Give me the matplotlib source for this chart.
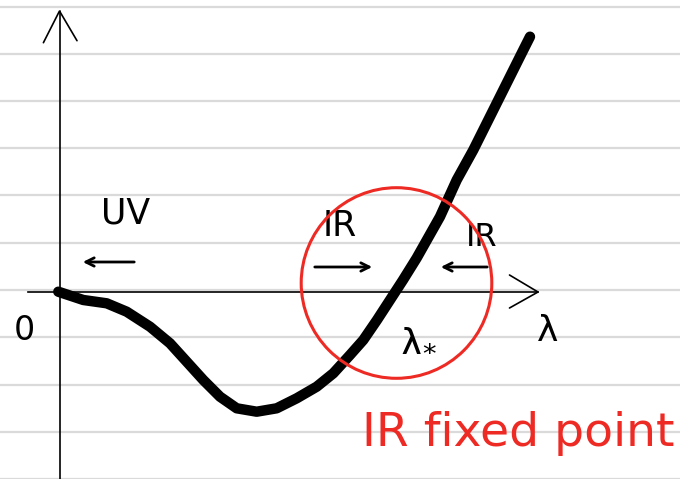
import matplotlib
matplotlib.use("Agg")
import matplotlib.pyplot as plt
from matplotlib.patches import Circle

# --- data (sketch coordinates, pixel-like units, y downward) ---
curve_x = [58.3, 83.3, 106.7, 126.7, 150, 170, 186.7, 203.3, 220, 236.7,
           256.7, 276.7, 296.7, 316.7, 333.3, 350, 363.3, 377, 390, 403,
           416.7, 440, 456.7, 473.3, 493.3, 513.3, 523.3, 530]
curve_y = [291.7, 300, 303.3, 311.7, 326.7, 343.3, 361.7, 380, 396.7, 408.3,
           411.7, 408.3, 398.3, 386.7, 373.3, 355, 340, 320, 300, 280,
           258, 216.7, 180, 150, 110, 70, 50, 36.7]
ruled_lines = [7, 54, 101, 148, 195, 242.5, 290, 337, 384.5, 432, 478.5]
fixed_point_center = (396.5, 283)
fixed_point_radius = 95.3
labels = {"zero": "0", "lam": "λ", "lamstar": r"λ$_{*}$",
          "uv": "UV", "ir": "IR", "title": "IR fixed point"}

W, H = 680, 479
fig = plt.figure(figsize=(W / 100, H / 100), dpi=100)
ax = fig.add_axes([0, 0, 1, 1])
ax.set_xlim(0, W)
ax.set_ylim(H, 0)
ax.axis("off")

# ruled notebook lines
for y in ruled_lines:
    ax.axhline(y, color="#dadada", lw=1.6, zorder=0)

# axes
ax.plot([59.5, 59.5], [11, 479], color="black", lw=1.2, solid_capstyle="round")
ax.plot([43.4, 59.5, 77], [42.7, 11, 40.7], color="black", lw=1.2,
        solid_capstyle="round", solid_joinstyle="miter")
ax.plot([28, 538], [291.5, 291.5], color="black", lw=1.2)
ax.plot([509.5, 538, 509.5], [275, 292, 308], color="black", lw=1.2,
        solid_capstyle="round")

# the thick curve
ax.plot(curve_x, curve_y, color="black", lw=7.5, solid_capstyle="round",
        solid_joinstyle="round", zorder=3)

# red circle
ax.add_patch(Circle(fixed_point_center, fixed_point_radius, fill=False,
                    edgecolor="#ee2a24", lw=2.2, zorder=4))

tkw = dict(color="black", ha="center", va="center", family="DejaVu Sans")
ax.text(24, 331, labels["zero"], fontsize=24, **tkw)
ax.text(548, 331, labels["lam"], fontsize=26, **tkw)
ax.text(418, 340, labels["lamstar"], fontsize=28, **tkw)
ax.text(126, 214, labels["uv"], fontsize=25, **tkw)
ax.text(340, 226, labels["ir"], fontsize=25, **tkw)
ax.text(482, 237, labels["ir"], fontsize=23, **tkw)

akw = dict(arrowstyle="->", color="black", lw=2.0, mutation_scale=15)
ax.annotate("", xy=(80, 262), xytext=(137, 262), arrowprops=akw)
ax.annotate("", xy=(375, 267), xytext=(312, 267), arrowprops=akw)
ax.annotate("", xy=(438, 267), xytext=(490, 267), arrowprops=akw)

ax.text(518, 433, labels["title"], fontsize=34, color="#ee2a24",
        ha="center", va="center", family="DejaVu Sans")

fig.savefig("out.png", dpi=100)
